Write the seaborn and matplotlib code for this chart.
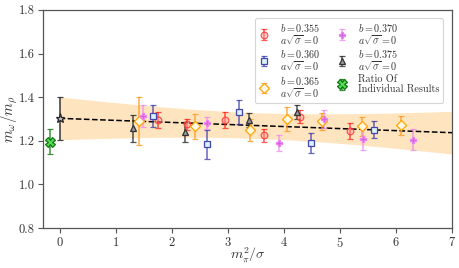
import numpy as np
import matplotlib
matplotlib.use("Agg")
import matplotlib.pyplot as plt
import seaborn as sns
import pandas as pd

# ---- data ----
x_355 = [1.76, 2.28, 2.95, 3.64, 4.29, 5.18]
y_355 = [1.295, 1.276, 1.295, 1.225, 1.311, 1.245]
e_355 = [0.036, 0.025, 0.035, 0.030, 0.028, 0.037]

x_360 = [1.67, 2.62, 3.19, 4.49, 5.61]
y_360 = [1.314, 1.184, 1.331, 1.191, 1.251]
e_360 = [0.050, 0.066, 0.054, 0.045, 0.040]

x_365 = [1.41, 2.41, 3.39, 4.06, 4.68, 5.40, 6.09]
y_365 = [1.291, 1.266, 1.251, 1.299, 1.289, 1.266, 1.271]
e_365 = [0.108, 0.057, 0.050, 0.055, 0.039, 0.043, 0.045]

x_370 = [1.49, 2.63, 3.91, 4.71, 5.41, 6.30]
y_370 = [1.314, 1.280, 1.191, 1.299, 1.207, 1.205]
e_370 = [0.052, 0.027, 0.037, 0.041, 0.047, 0.047]

x_375 = [1.30, 2.23, 3.37, 4.24]
y_375 = [1.257, 1.239, 1.295, 1.332]
e_375 = [0.063, 0.046, 0.033, 0.033]

x_ratio = [-0.17]
y_ratio = [1.195]
e_ratio = [0.057]

x_chiral = [0.0]
y_chiral = [1.303]
e_chiral = [0.098]

# linear fit parameters and its error band
fit_intercept = 1.303
fit_slope = -0.0094
band_min_halfwidth = 0.059
band_growth = 0.0224
band_center = 3.5
fit_range = [0.0, 7.0]

series_labels = [r"$b=0.355$" + "\n" + r"$a\sqrt{\sigma}=0$",
                 r"$b=0.360$" + "\n" + r"$a\sqrt{\sigma}=0$",
                 r"$b=0.365$" + "\n" + r"$a\sqrt{\sigma}=0$",
                 r"$b=0.370$" + "\n" + r"$a\sqrt{\sigma}=0$",
                 r"$b=0.375$" + "\n" + r"$a\sqrt{\sigma}=0$",
                 "Ratio Of\nIndividual Results"]

# ---- style ----
sns.set_theme(style="ticks")
plt.rcParams["font.family"] = ["cmr10", "DejaVu Serif"]
plt.rcParams["mathtext.fontset"] = "cm"
plt.rcParams["axes.formatter.use_mathtext"] = True
plt.rcParams["axes.unicode_minus"] = False

fig = plt.figure(figsize=(4.6, 2.68), dpi=100)
ax = fig.add_axes([0.093, 0.149, 0.890, 0.814])

# band and fit line
xf = np.linspace(fit_range[0], fit_range[1], 200)
yf = fit_intercept + fit_slope * xf
hw = np.sqrt(band_min_halfwidth**2 + (band_growth * (xf - band_center))**2)
ax.fill_between(xf, yf - hw, yf + hw, color="#ffe4c0", lw=0, zorder=1)
fit_df = pd.DataFrame({"x": xf, "y": yf})
sns.lineplot(data=fit_df, x="x", y="y", ax=ax, color="black", lw=1.1,
             linestyle="--", zorder=3, legend=False)

styles = [
    dict(x=x_355, y=y_355, e=e_355, marker="o", mfc=(1, 0.6, 0.6, 0.45), mec=(1, 0.2, 0.2, 0.8), ecol=(1, 0, 0, 0.65), ms=4.8),
    dict(x=x_360, y=y_360, e=e_360, marker="s", mfc="#d9f1f8", mec="#4444aa", ecol=(0.2, 0.2, 0.67, 0.75), ms=4.8),
    dict(x=x_365, y=y_365, e=e_365, marker="D", mfc="#fff8e4", mec="orange", ecol=(1, 0.6, 0.1, 0.8), ms=4.8),
    dict(x=x_370, y=y_370, e=e_370, marker="P", mfc="#cc66dd", mec="violet", ecol=(0.93, 0.5, 0.93, 0.7), ms=4.5),
    dict(x=x_375, y=y_375, e=e_375, marker="^", mfc="#999999", mec="#333333", ecol=(0.15, 0.15, 0.15, 0.8), ms=5.0),
    dict(x=x_ratio, y=y_ratio, e=e_ratio, marker="X", mfc="#55dd55", mec="#117711", ecol=(0.1, 0.5, 0.1, 0.85), ms=6.5),
]

handles = []
for st, lab in zip(styles, series_labels):
    h = ax.errorbar(st["x"], st["y"], yerr=st["e"], fmt=st["marker"], ms=st["ms"],
                    mfc=st["mfc"], mec=st["mec"], mew=0.9, ecolor=st["ecol"],
                    elinewidth=1.1, capsize=2.2, capthick=0.9, label=lab, zorder=4)
    handles.append(h)

ax.errorbar(x_chiral, y_chiral, yerr=e_chiral, fmt="*", ms=6.5, mfc="#bbbbbb", mec="#222222",
            mew=0.9, ecolor=(0.2, 0.2, 0.2, 0.9), elinewidth=1.2, capsize=2.5, capthick=0.9, zorder=5)

ax.set_xlim(-0.3, 7)
ax.set_ylim(0.8, 1.8)
ax.set_xticks(range(0, 8))
ax.set_yticks([0.8, 1.0, 1.2, 1.4, 1.6, 1.8])
ax.set_yticklabels(["0.8", "1.0", "1.2", "1.4", "1.6", "1.8"])
ax.tick_params(labelsize=9, color="#555555", labelcolor="#333333", length=3.5, width=0.8, pad=2.5)
for s in ax.spines.values():
    s.set_color("#555555")
    s.set_linewidth(0.9)
ax.set_xlabel(r"$m_{\pi}^2/\sigma$", fontsize=10, color="#333333")
ax.set_ylabel(r"$m_{\omega}/m_{\rho}$", fontsize=10.5, color="#333333")
ax.xaxis.set_label_coords(0.5, -0.078)
ax.yaxis.set_label_coords(-0.056, 0.5)

leg = ax.legend(handles=handles, labels=series_labels, ncol=2, loc="upper right",
                fontsize=7.3, frameon=True, handlelength=1.0, handletextpad=1.1,
                columnspacing=1.6, labelspacing=0.15, borderpad=0.35,
                bbox_to_anchor=(0.99, 0.985))
leg.get_frame().set_edgecolor("#cccccc")
leg.get_frame().set_linewidth(0.8)
for t in leg.get_texts():
    t.set_color("#333333")
    t.set_linespacing(0.95)

fig.savefig("out.png", dpi=100)
